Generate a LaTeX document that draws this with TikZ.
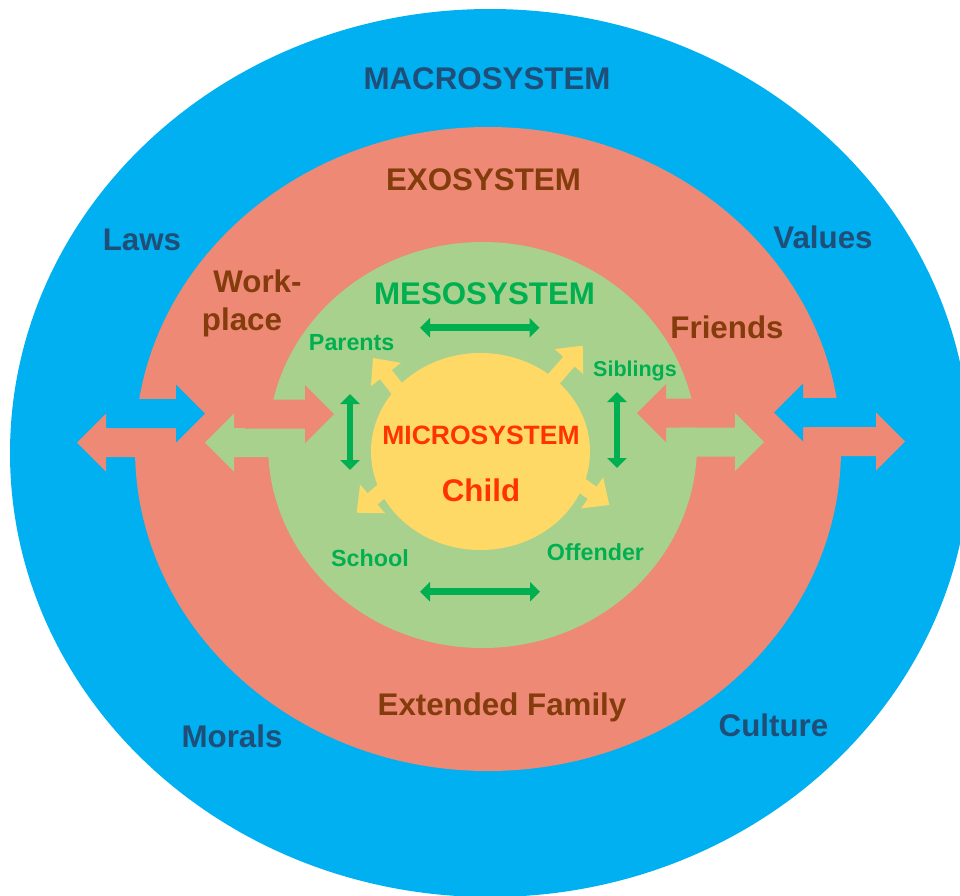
\documentclass[tikz,border=0pt]{standalone}
\usepackage{fontspec}
\setmainfont{Liberation Sans}
\usetikzlibrary{arrows.meta}

\definecolor{macroblue}{HTML}{00B0F0}
\definecolor{exored}{HTML}{ED8974}
\definecolor{mesogreen}{HTML}{A9D18E}
\definecolor{microyellow}{HTML}{FFD966}
\definecolor{macrotext}{HTML}{1F4E79}
\definecolor{exotext}{HTML}{843C0C}
\definecolor{mesotext}{HTML}{00B050}
\definecolor{microtext}{HTML}{FF3300}

% block arrow: colour, tip x, tip y, direction (1 = right, -1 = left), length from tip to shaft end
\newcommand{\ringarrow}[5]{%
  \fill[#1, shift={(#2,#3)}, xscale=#4]
    (0,0) -- (-29,-29) -- (-29,-14.5) -- (-#5,-14.5) -- (-#5,14.5)
    -- (-29,14.5) -- (-29,29) -- cycle;}

% arrow leaving the inner circle: tip x, tip y, angle
\newcommand{\microarrow}[3]{%
  \fill[microyellow, shift={(#1,#2)}, rotate=#3]
    (0,0) -- (-21,-19) -- (-21,-7.5) -- (-70,-7.5) -- (-70,7.5)
    -- (-21,7.5) -- (-21,19) -- cycle;}

\begin{document}
\begin{tikzpicture}[x=1pt,y=-1pt,
  lbl/.style={anchor=base, inner sep=0pt,
    font=\bfseries\fontsize{31.3}{36}\selectfont},
  smalllbl/.style={anchor=base, inner sep=0pt, text=mesotext,
    font=\bfseries\fontsize{23.3}{28}\selectfont},
  link/.style={draw=mesotext, line width=6.5pt,
    {Triangle[width=19pt,length=10pt]}-{Triangle[width=19pt,length=10pt]}}
]
\useasboundingbox (0,0) rectangle (960,895);

% nested systems
\begin{scope}
  \clip (0,0) rectangle (960,895);
  \fill[macroblue] (490,453) ellipse [x radius=480, y radius=444];
\end{scope}
\fill[exored] (488,449) ellipse [x radius=353, y radius=322];
\fill[mesogreen] (482.5,445) ellipse [x radius=214.5, y radius=203];

% exchanges between the rings, left side
\ringarrow{exored}{77}{442.5}{-1}{83}
\ringarrow{macroblue}{205}{413.5}{1}{95}
\ringarrow{mesogreen}{205}{442.5}{-1}{95}
\ringarrow{exored}{334}{414}{1}{89}
% right side
\ringarrow{exored}{637}{413}{-1}{88}
\ringarrow{mesogreen}{764}{442}{1}{84}
\ringarrow{macroblue}{774}{412.5}{-1}{96}
\ringarrow{exored}{905}{441.5}{1}{95}

% child and its four links
\microarrow{373}{358}{128}
\microarrow{582.7}{345.7}{49}
\microarrow{356.7}{512.7}{221}
\microarrow{609.3}{505}{-35.4}
\fill[microyellow] (480.5,451.5) ellipse [x radius=109.5, y radius=98.5];

% mesosystem links
\coordinate (topL) at (420,327.7);
\coordinate (topR) at (539.5,327.7);
\coordinate (botL) at (420,591.7);
\coordinate (botR) at (540,591.7);
\coordinate (leftT) at (350,394);
\coordinate (leftB) at (350,470);
\coordinate (rightT) at (617,392);
\coordinate (rightB) at (617,468);
\draw[link] (topL) -- (topR);
\draw[link] (botL) -- (botR);
\draw[link] (leftT) -- (leftB);
\draw[link] (rightT) -- (rightB);

% labels
\node[lbl, text=macrotext] (macro) at (487,89.3) {MACROSYSTEM};
\node[lbl, text=exotext] (exo) at (483.5,190.7) {EXOSYSTEM};
\node[lbl, text=macrotext] (laws) at (142,250.7) {Laws};
\node[lbl, text=macrotext] (values) at (823,248) {Values};
\node[lbl, text=exotext] (work) at (257.5,292.7) {Work-};
\node[lbl, text=exotext] (place) at (242,330) {place};
\node[lbl, text=mesotext] (meso) at (484.5,304) {MESOSYSTEM};
\node[lbl, text=exotext] (friends) at (727,338) {Friends};
\node[smalllbl] (parents) at (351.7,350) {Parents};
\node[smalllbl, font=\bfseries\fontsize{21.5}{26}\selectfont] (siblings) at (635,376.7) {Siblings};
\node[smalllbl] (school) at (370,566.7) {School};
\node[smalllbl] (offender) at (595.5,560) {Offender};
\node[anchor=base, inner sep=0pt, text=microtext,
  font=\bfseries\fontsize{26.5}{30}\selectfont] (micro) at (481,444) {MICROSYSTEM};
\node[lbl, text=microtext] (child) at (481,501.7) {Child};
\node[lbl, text=exotext] (extended) at (502,715) {Extended Family};
\node[lbl, text=macrotext] (morals) at (232,747.7) {Morals};
\node[lbl, text=macrotext] (culture) at (773.5,736.7) {Culture};
\end{tikzpicture}
\end{document}
